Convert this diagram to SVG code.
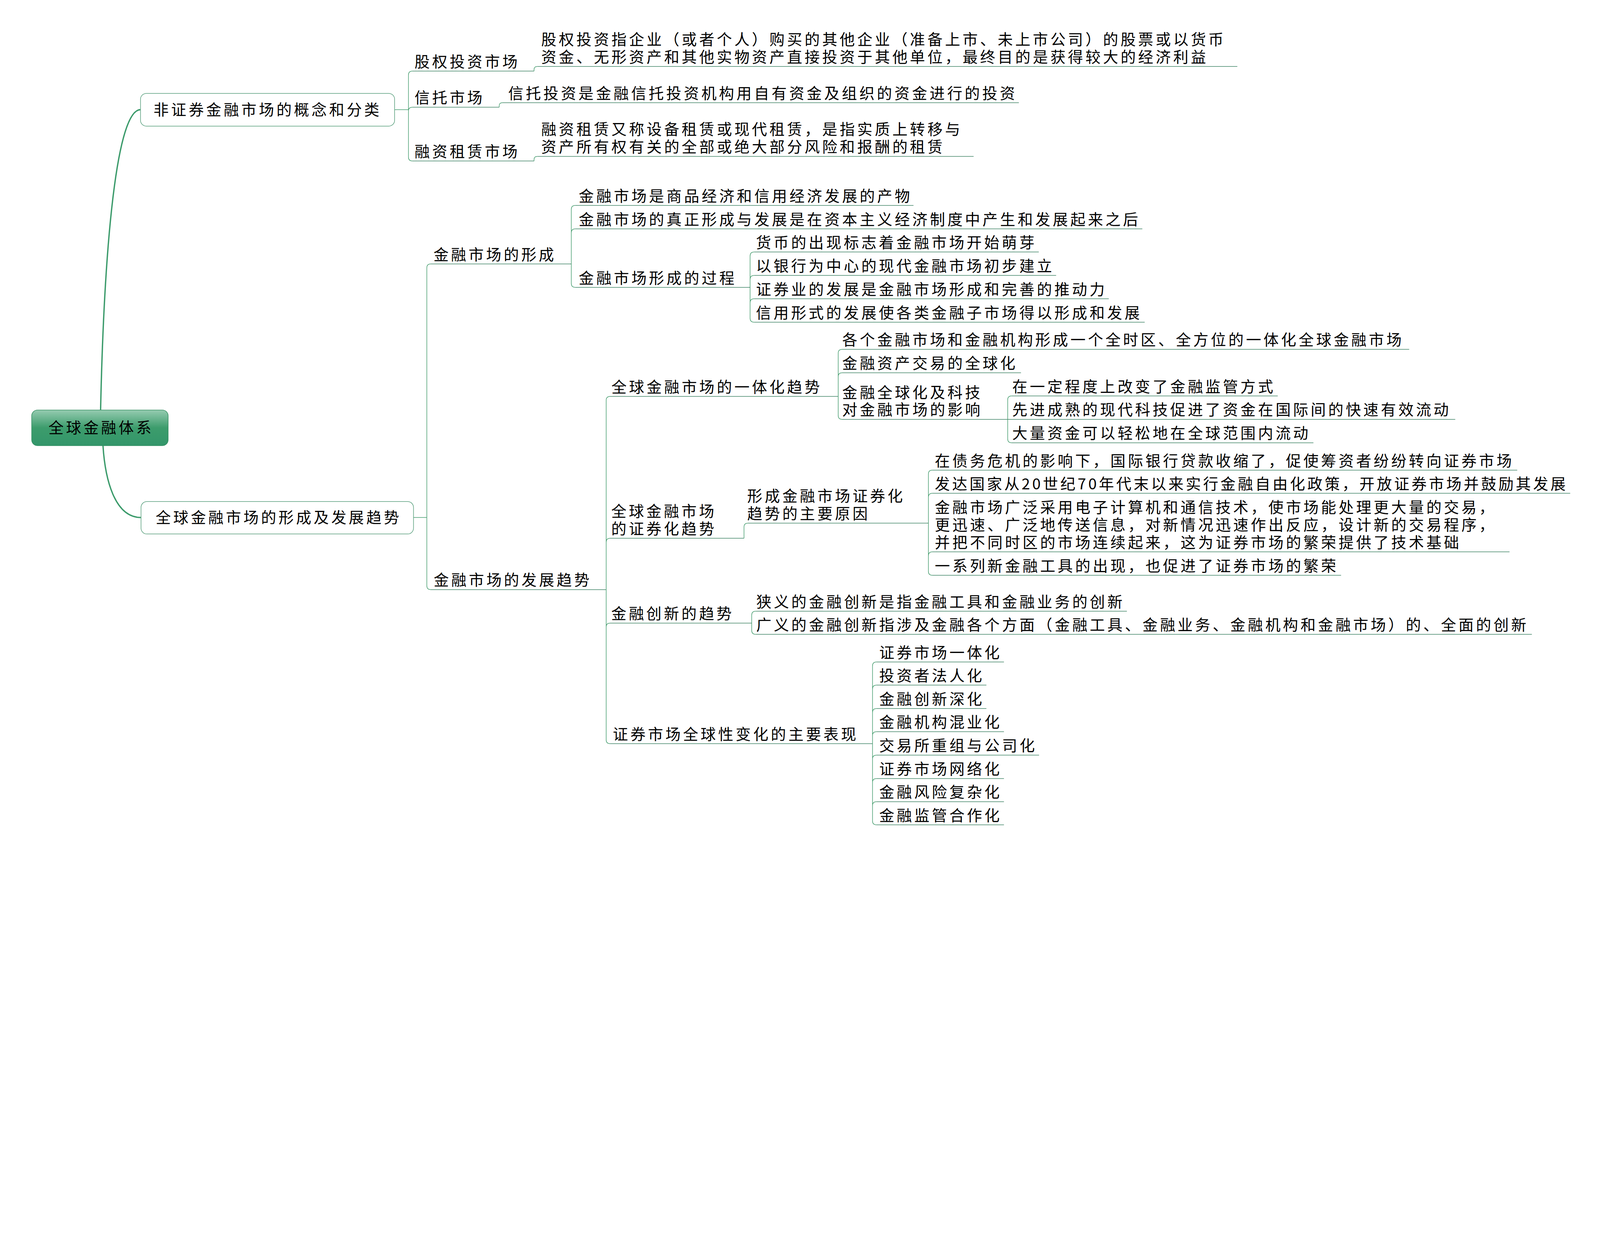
<svg xmlns="http://www.w3.org/2000/svg" width="6013" height="3216" viewBox="0 0 6013 3216" style="max-width:100vw;height:auto">
<style>
.t{font-family:"Noto Sans CJK SC","Noto Sans CJK JP",sans-serif;font-size:57px;letter-spacing:9px;fill:#000}
.ul{stroke:#44876a;stroke-width:2.2;fill:none}
.cn{stroke:#4a9f72;stroke-width:2.2;fill:none}
.trunk{stroke:#3a9a6a;stroke-width:5;fill:none}
.box{fill:#fff;stroke:#5aa07e;stroke-width:2.2}
</style>
<defs>
<linearGradient id="rootg" x1="0" y1="0" x2="0" y2="1">
<stop offset="0" stop-color="#95cbb0"/>
<stop offset="0.5" stop-color="#3c9c6c"/>
<stop offset="1" stop-color="#33966a"/>
</linearGradient>
</defs>
<rect width="6013" height="3216" fill="#fff"/>

<g id="connectors">
<path class="trunk" d="M378 1541 C392 900 440 412 528 412"/>
<path class="trunk" d="M387 1675 C395 1800 430 1945 530 1945"/>
<path class="cn" d="M1483 412 H1535 M1535 282 V590 M1535 282 Q1535 267 1550 267 M1535 418 Q1535 403 1550 403 M1535 590 Q1535 605 1550 605"/>
<path class="cn" d="M2007 267 V262 Q2007 250 2019 250"/>
<path class="cn" d="M1876 403 V398 Q1876 386 1888 386"/>
<path class="cn" d="M2007 605 V600 Q2007 588 2019 588"/>
<path class="cn" d="M1554 1945 H1604 M1604 1007 V2201 M1604 1007 Q1604 992 1619 992 M1604 2201 Q1604 2216 1619 2216"/>
<path class="cn" d="M2147 787 V1065 M2147 787 Q2147 772 2162 772 M2147 875 Q2147 860 2162 860 M2147 1065 Q2147 1080 2162 1080"/>
<path class="cn" d="M2819 962 V1196 M2819 962 Q2819 947 2834 947 M2819 1050 Q2819 1035 2834 1035 M2819 1138 Q2819 1123 2834 1123 M2819 1196 Q2819 1211 2834 1211"/>
<path class="cn" d="M2278 1505 V2780 M2278 1505 Q2278 1490 2293 1490 M2278 2038 Q2278 2023 2293 2023 M2278 2357 Q2278 2342 2293 2342 M2278 2780 Q2278 2795 2293 2795"/>
<path class="cn" d="M3150 1328 V1561 M3150 1328 Q3150 1313 3165 1313 M3150 1416 Q3150 1401 3165 1401 M3150 1561 Q3150 1576 3165 1576"/>
<path class="cn" d="M3787 1503 V1649 M3787 1503 Q3787 1488 3802 1488 M3787 1649 Q3787 1664 3802 1664"/>
<path class="cn" d="M2796 2023 V1981 Q2796 1966 2811 1966"/>
<path class="cn" d="M3489 1782 V2147 M3489 1782 Q3489 1767 3504 1767 M3489 1869 Q3489 1854 3504 1854 M3489 2089 Q3489 2074 3504 2074 M3489 2147 Q3489 2162 3504 2162"/>
<path class="cn" d="M2825 2312 V2369 M2825 2312 Q2825 2297 2840 2297 M2825 2369 Q2825 2384 2840 2384"/>
<path class="cn" d="M3279 2503 V3085 M3279 2503 Q3279 2488 3294 2488 M3279 2590 Q3279 2575 3294 2575 M3279 2678 Q3279 2663 3294 2663 M3279 2765 Q3279 2750 3294 2750 M3279 2853 Q3279 2838 3294 2838 M3279 2941 Q3279 2926 3294 2926 M3279 3028 Q3279 3013 3294 3013 M3279 3085 Q3279 3100 3294 3100"/>
</g>

<g id="root">
<rect x="119" y="1541" width="513" height="134" rx="22" fill="url(#rootg)" stroke="#2f8c5e" stroke-width="2"/>
<text class="t" x="182" y="1628">全球金融体系</text>
</g>

<g id="n-a">
<rect class="box" x="528" y="351" width="955" height="123" rx="22"/>
<text class="t" x="577" y="433">非证券金融市场的概念和分类</text>
</g>
<g id="n-a1">
<text class="t" x="1558" y="252">股权投资市场</text>
<line class="ul" x1="1550" y1="267" x2="2007" y2="267"/>
</g>
<g id="n-a1a">
<text class="t" x="2034" y="169">股权投资指企业（或者个人）购买的其他企业（准备上市、未上市公司）的股票或以货币</text>
<text class="t" x="2034" y="235">资金、无形资产和其他实物资产直接投资于其他单位，最终目的是获得较大的经济利益</text>
<line class="ul" x1="2019" y1="250" x2="4650" y2="250"/>
</g>
<g id="n-a2">
<text class="t" x="1558" y="388">信托市场</text>
<line class="ul" x1="1550" y1="403" x2="1876" y2="403"/>
</g>
<g id="n-a2a">
<text class="t" x="1910" y="371">信托投资是金融信托投资机构用自有资金及组织的资金进行的投资</text>
<line class="ul" x1="1888" y1="386" x2="3829" y2="386"/>
</g>
<g id="n-a3">
<text class="t" x="1558" y="590">融资租赁市场</text>
<line class="ul" x1="1550" y1="605" x2="2007" y2="605"/>
</g>
<g id="n-a3a">
<text class="t" x="2034" y="507">融资租赁又称设备租赁或现代租赁，是指实质上转移与</text>
<text class="t" x="2034" y="573">资产所有权有关的全部或绝大部分风险和报酬的租赁</text>
<line class="ul" x1="2019" y1="588" x2="3659" y2="588"/>
</g>

<g id="n-b">
<rect class="box" x="530" y="1885" width="1024" height="122" rx="22"/>
<text class="t" x="585" y="1966">全球金融市场的形成及发展趋势</text>
</g>
<g id="n-b1">
<text class="t" x="1629" y="977">金融市场的形成</text>
<line class="ul" x1="1619" y1="992" x2="2147" y2="992"/>
</g>
<g id="n-b1a">
<text class="t" x="2175" y="757">金融市场是商品经济和信用经济发展的产物</text>
<line class="ul" x1="2162" y1="772" x2="3433" y2="772"/>
</g>
<g id="n-b1b">
<text class="t" x="2175" y="845">金融市场的真正形成与发展是在资本主义经济制度中产生和发展起来之后</text>
<line class="ul" x1="2162" y1="860" x2="4293" y2="860"/>
</g>
<g id="n-b1c">
<text class="t" x="2175" y="1065">金融市场形成的过程</text>
<line class="ul" x1="2162" y1="1080" x2="2819" y2="1080"/>
</g>
<g id="n-b1c1">
<text class="t" x="2841" y="932">货币的出现标志着金融市场开始萌芽</text>
<line class="ul" x1="2834" y1="947" x2="3904" y2="947"/>
</g>
<g id="n-b1c2">
<text class="t" x="2841" y="1020">以银行为中心的现代金融市场初步建立</text>
<line class="ul" x1="2834" y1="1035" x2="3969" y2="1035"/>
</g>
<g id="n-b1c3">
<text class="t" x="2841" y="1108">证券业的发展是金融市场形成和完善的推动力</text>
<line class="ul" x1="2834" y1="1123" x2="4167" y2="1123"/>
</g>
<g id="n-b1c4">
<text class="t" x="2841" y="1196">信用形式的发展使各类金融子市场得以形成和发展</text>
<line class="ul" x1="2834" y1="1211" x2="4302" y2="1211"/>
</g>

<g id="n-b2">
<text class="t" x="1630" y="2201">金融市场的发展趋势</text>
<line class="ul" x1="1619" y1="2216" x2="2278" y2="2216"/>
</g>
<g id="n-b2a">
<text class="t" x="2298" y="1475">全球金融市场的一体化趋势</text>
<line class="ul" x1="2293" y1="1490" x2="3150" y2="1490"/>
</g>
<g id="n-b2a1">
<text class="t" x="3165" y="1298">各个金融市场和金融机构形成一个全时区、全方位的一体化全球金融市场</text>
<line class="ul" x1="3165" y1="1313" x2="5296" y2="1313"/>
</g>
<g id="n-b2a2">
<text class="t" x="3165" y="1386">金融资产交易的全球化</text>
<line class="ul" x1="3165" y1="1401" x2="3837" y2="1401"/>
</g>
<g id="n-b2a3">
<text class="t" x="3165" y="1495">金融全球化及科技</text>
<text class="t" x="3165" y="1561">对金融市场的影响</text>
<line class="ul" x1="3165" y1="1576" x2="3787" y2="1576"/>
</g>
<g id="n-b2a3a">
<text class="t" x="3804" y="1473">在一定程度上改变了金融监管方式</text>
<line class="ul" x1="3802" y1="1488" x2="4802" y2="1488"/>
</g>
<g id="n-b2a3b">
<text class="t" x="3804" y="1561">先进成熟的现代科技促进了资金在国际间的快速有效流动</text>
<line class="ul" x1="3787" y1="1576" x2="5469" y2="1576"/>
</g>
<g id="n-b2a3c">
<text class="t" x="3804" y="1649">大量资金可以轻松地在全球范围内流动</text>
<line class="ul" x1="3802" y1="1664" x2="4936" y2="1664"/>
</g>
<g id="n-b2b">
<text class="t" x="2297" y="1942">全球金融市场</text>
<text class="t" x="2297" y="2008">的证券化趋势</text>
<line class="ul" x1="2293" y1="2023" x2="2796" y2="2023"/>
</g>
<g id="n-b2b1">
<text class="t" x="2808" y="1885">形成金融市场证券化</text>
<text class="t" x="2808" y="1951">趋势的主要原因</text>
<line class="ul" x1="2811" y1="1966" x2="3489" y2="1966"/>
</g>
<g id="n-b2b1a">
<text class="t" x="3513" y="1752">在债务危机的影响下，国际银行贷款收缩了，促使筹资者纷纷转向证券市场</text>
<line class="ul" x1="3504" y1="1767" x2="5702" y2="1767"/>
</g>
<g id="n-b2b1b">
<text class="t" x="3513" y="1839" textLength="2380" lengthAdjust="spacing">发达国家从20世纪70年代末以来实行金融自由化政策，开放证券市场并鼓励其发展</text>
<line class="ul" x1="3504" y1="1854" x2="5901" y2="1854"/>
</g>
<g id="n-b2b1c">
<text class="t" x="3513" y="1927">金融市场广泛采用电子计算机和通信技术，使市场能处理更大量的交易，</text>
<text class="t" x="3513" y="1993">更迅速、广泛地传送信息，对新情况迅速作出反应，设计新的交易程序，</text>
<text class="t" x="3513" y="2059">并把不同时区的市场连续起来，这为证券市场的繁荣提供了技术基础</text>
<line class="ul" x1="3504" y1="2074" x2="5673" y2="2074"/>
</g>
<g id="n-b2b1d">
<text class="t" x="3513" y="2147">一系列新金融工具的出现，也促进了证券市场的繁荣</text>
<line class="ul" x1="3504" y1="2162" x2="5040" y2="2162"/>
</g>
<g id="n-b2c">
<text class="t" x="2297" y="2327">金融创新的趋势</text>
<line class="ul" x1="2293" y1="2342" x2="2825" y2="2342"/>
</g>
<g id="n-b2c1">
<text class="t" x="2842" y="2282">狭义的金融创新是指金融工具和金融业务的创新</text>
<line class="ul" x1="2840" y1="2297" x2="4235" y2="2297"/>
</g>
<g id="n-b2c2">
<text class="t" x="2842" y="2369">广义的金融创新指涉及金融各个方面（金融工具、金融业务、金融机构和金融市场）的、全面的创新</text>
<line class="ul" x1="2840" y1="2384" x2="5757" y2="2384"/>
</g>
<g id="n-b2d">
<text class="t" x="2303" y="2780">证券市场全球性变化的主要表现</text>
<line class="ul" x1="2293" y1="2795" x2="3279" y2="2795"/>
</g>
<g id="n-b2d1"><text class="t" x="3304" y="2473">证券市场一体化</text><line class="ul" x1="3294" y1="2488" x2="3773" y2="2488"/></g>
<g id="n-b2d2"><text class="t" x="3304" y="2560">投资者法人化</text><line class="ul" x1="3294" y1="2575" x2="3707" y2="2575"/></g>
<g id="n-b2d3"><text class="t" x="3304" y="2648">金融创新深化</text><line class="ul" x1="3294" y1="2663" x2="3707" y2="2663"/></g>
<g id="n-b2d4"><text class="t" x="3304" y="2735">金融机构混业化</text><line class="ul" x1="3294" y1="2750" x2="3773" y2="2750"/></g>
<g id="n-b2d5"><text class="t" x="3304" y="2823">交易所重组与公司化</text><line class="ul" x1="3294" y1="2838" x2="3905" y2="2838"/></g>
<g id="n-b2d6"><text class="t" x="3304" y="2911">证券市场网络化</text><line class="ul" x1="3294" y1="2926" x2="3773" y2="2926"/></g>
<g id="n-b2d7"><text class="t" x="3304" y="2998">金融风险复杂化</text><line class="ul" x1="3294" y1="3013" x2="3773" y2="3013"/></g>
<g id="n-b2d8"><text class="t" x="3304" y="3085">金融监管合作化</text><line class="ul" x1="3294" y1="3100" x2="3773" y2="3100"/></g>
</svg>
